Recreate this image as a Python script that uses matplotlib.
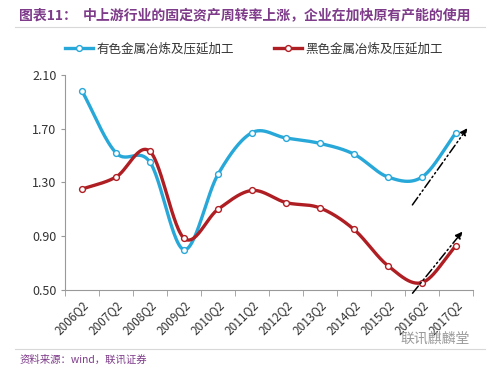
import numpy as np
import matplotlib
matplotlib.use("Agg")
import matplotlib.pyplot as plt
from matplotlib.ticker import FixedLocator

plt.rcParams['font.family'] = ['Noto Sans CJK SC', 'DejaVu Sans']

categories = ["2006Q2", "2007Q2", "2008Q2", "2009Q2", "2010Q2", "2011Q2",
              "2012Q2", "2013Q2", "2014Q2", "2015Q2", "2016Q2", "2017Q2"]
nonferrous = [1.98, 1.52, 1.45, 0.80, 1.36, 1.67, 1.63, 1.59, 1.51, 1.34, 1.34, 1.67]
ferrous = [1.25, 1.34, 1.53, 0.885, 1.10, 1.24, 1.15, 1.11, 0.95, 0.68, 0.555, 0.83]
series_names = ["有色金属冶炼及压延加工", "黑色金属冶炼及压延加工"]
yticks = [0.50, 0.90, 1.30, 1.70, 2.10]

title_prefix = "图表11："
title = "中上游行业的固定资产周转率上涨，企业在加快原有产能的使用"
source = "资料来源：wind，联讯证券"
watermark = "联讯麒麟堂"

BLUE = "#27A8D8"
RED = "#AF1E23"
PURPLE = "#7E3B8A"


def smooth(xs, ys, n=30):
    xs = np.asarray(xs, float)
    ys = np.asarray(ys, float)
    px = np.concatenate([[2 * xs[0] - xs[1]], xs, [2 * xs[-1] - xs[-2]]])
    py = np.concatenate([[2 * ys[0] - ys[1]], ys, [2 * ys[-1] - ys[-2]]])
    outx, outy = [], []
    for i in range(1, len(px) - 2):
        t = np.linspace(0, 1, n, endpoint=False)
        p0x, p1x, p2x, p3x = px[i - 1:i + 3]
        p0y, p1y, p2y, p3y = py[i - 1:i + 3]
        c1x = p1x + (p2x - p0x) / 6
        c1y = p1y + (p2y - p0y) / 6
        c2x = p2x - (p3x - p1x) / 6
        c2y = p2y - (p3y - p1y) / 6
        bx = (1 - t) ** 3 * p1x + 3 * (1 - t) ** 2 * t * c1x + 3 * (1 - t) * t ** 2 * c2x + t ** 3 * p2x
        by = (1 - t) ** 3 * p1y + 3 * (1 - t) ** 2 * t * c1y + 3 * (1 - t) * t ** 2 * c2y + t ** 3 * p2y
        outx.extend(bx)
        outy.extend(by)
    outx.append(xs[-1])
    outy.append(ys[-1])
    return np.array(outx), np.array(outy)


fig = plt.figure(figsize=(5.0, 3.65), dpi=100)
ax = fig.add_axes([0.13, 0.2055, 0.816, 0.5895])

x = np.arange(len(categories))
for vals, color, name in [(nonferrous, BLUE, series_names[0]), (ferrous, RED, series_names[1])]:
    sx, sy = smooth(x, vals)
    ax.plot(sx, sy, color=color, lw=2.4, zorder=3, solid_capstyle='round')
    ax.plot(x, vals, ls='none', marker='o', ms=4.2, mfc='white', mec=color, mew=1.0, zorder=4)
    ax.plot([], [], color=color, lw=2.4, marker='o', ms=4.2, mfc='white', mec=color, label=name)

ax.set_xlim(-0.5, len(categories) - 0.5)
ax.set_ylim(yticks[0], yticks[-1])
ax.set_yticks(yticks)
ax.set_yticklabels([f"{v:.2f}" for v in yticks], fontsize=9, color="#333333")
ax.set_xticks(x)
ax.set_xticklabels(categories, rotation=45, ha='right', rotation_mode='anchor', fontsize=8.5, color="#333333")
ax.tick_params(axis='x', which='major', length=0, pad=6)
ax.xaxis.set_minor_locator(FixedLocator(np.arange(-0.5, len(categories), 1.0)))
ax.tick_params(axis='x', which='minor', length=4, color="#999999", direction='out')
ax.tick_params(axis='y', length=3, color="#999999", pad=3)
for s in ['top', 'right']:
    ax.spines[s].set_visible(False)
for s in ['left', 'bottom']:
    ax.spines[s].set_color("#999999")
    ax.spines[s].set_linewidth(0.8)

# trend arrows (dash-dot)
arrow_style = dict(arrowstyle='-|>', color='black', lw=1.1, ls=(0, (6, 2, 1, 2, 1, 2)), mutation_scale=10)
ax.annotate("", xy=(11.38, 1.72), xytext=(9.67, 1.116),
            arrowprops=arrow_style, annotation_clip=False, zorder=5)
ax.annotate("", xy=(11.24, 0.95), xytext=(9.67, 0.46),
            arrowprops=arrow_style, annotation_clip=False, zorder=5)

leg = fig.legend(loc='center', bbox_to_anchor=(0.508, 0.866), ncol=2, frameon=False,
                 fontsize=9, handlelength=2.2, columnspacing=3.2, handletextpad=0.3)
for t in leg.get_texts():
    t.set_color("#333333")

fig.text(0.038, 0.958, title_prefix, fontsize=10, fontweight='bold', color=PURPLE, va='center')
fig.text(0.165, 0.958, title, fontsize=10, fontweight='bold', color=PURPLE, va='center')
fig.add_artist(plt.Line2D([0.03, 0.97], [0.927, 0.927], color="#D8D8D8", lw=0.8))
fig.add_artist(plt.Line2D([0.03, 0.97], [0.045, 0.045], color="#D8D8D8", lw=0.8))
fig.text(0.04, 0.014, source, fontsize=7.5, style='italic', color=PURPLE, va='center')
fig.text(0.80, 0.072, watermark, fontsize=10, color="#9A9A9A", va='center')

fig.savefig("out.png", dpi=100)
